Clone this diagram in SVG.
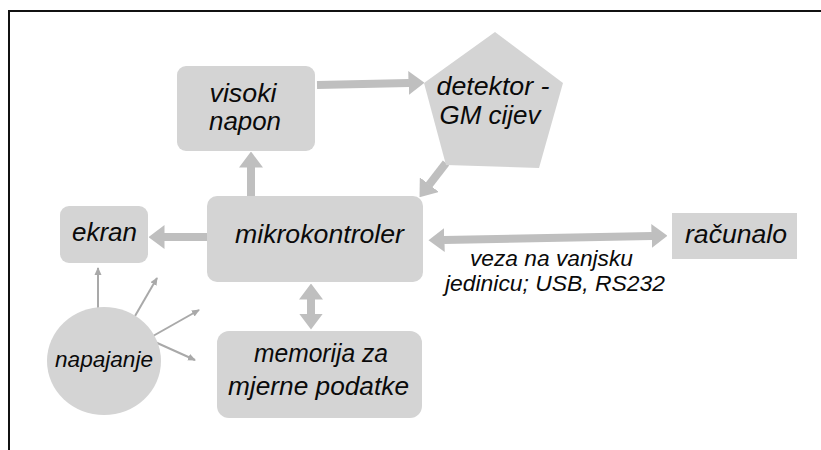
<svg xmlns="http://www.w3.org/2000/svg" width="821" height="450" viewBox="0 0 821 450">
<style>
.box{fill:#d4d4d4;stroke:none}
.lbl{font-family:"Liberation Sans",Arial,sans-serif;font-style:italic;font-size:25px;fill:#0a0a0a;text-anchor:middle}
.sm{font-size:22px}
.big{stroke:#bfbfbf;stroke-width:8;fill:none;marker-end:url(#bh)}
.dbl{stroke:#bfbfbf;stroke-width:8;fill:none;marker-end:url(#bh);marker-start:url(#bh)}
.thin{stroke:#a9a9a9;stroke-width:2;fill:none;marker-end:url(#sh)}
</style>
<defs>
<marker id="bh" viewBox="0 0 16 24" refX="0.5" refY="12" markerWidth="16" markerHeight="24" markerUnits="userSpaceOnUse" orient="auto-start-reverse">
<path d="M0,0 L16,12 L0,24 z" fill="#bfbfbf"/>
</marker>
<marker id="sh" viewBox="0 0 8 8" refX="7" refY="4" markerWidth="8" markerHeight="8" markerUnits="userSpaceOnUse" orient="auto">
<path d="M0,0.5 L8,4 L0,7.5 z" fill="#a9a9a9"/>
</marker>
</defs>
<rect width="821" height="450" fill="#ffffff"/>
<path d="M9,450 V11 H821" fill="none" stroke="#111" stroke-width="2"/>

<g id="connectors">
<line class="big" x1="317" y1="85" x2="409" y2="83"/>
<line class="big" x1="251" y1="196" x2="251" y2="167"/>
<line class="big" x1="446" y1="163" x2="429" y2="185"/>
<line class="big" x1="207" y1="237" x2="164" y2="237"/>
<line class="dbl" x1="311" y1="299" x2="311" y2="314"/>
<line class="dbl" x1="444" y1="240" x2="652" y2="236"/>
<line class="thin" x1="98" y1="308" x2="98" y2="268"/>
<line class="thin" x1="135" y1="316" x2="157" y2="278"/>
<line class="thin" x1="153" y1="336" x2="199" y2="310"/>
<line class="thin" x1="155" y1="342" x2="195" y2="360"/>
</g>

<g id="visoki-napon">
<rect class="box" x="177" y="66" width="138" height="85" rx="9"/>
<text class="lbl" x="243" y="102" textLength="67" lengthAdjust="spacingAndGlyphs">visoki</text>
<text class="lbl" x="245" y="130" textLength="72" lengthAdjust="spacingAndGlyphs">napon</text>
</g>

<g id="detektor">
<polygon class="box" points="495,32 563,83 539,168 446,165 424,83"/>
<text class="lbl" x="493" y="95" textLength="113" lengthAdjust="spacingAndGlyphs">detektor -</text>
<text class="lbl" x="490" y="124" textLength="101" lengthAdjust="spacingAndGlyphs">GM cijev</text>
</g>

<g id="mikrokontroler">
<rect class="box" x="207" y="196" width="216" height="86" rx="10"/>
<text class="lbl" x="319.5" y="243" textLength="169" lengthAdjust="spacingAndGlyphs">mikrokontroler</text>
</g>

<g id="ekran">
<rect class="box" x="60" y="206" width="88" height="57" rx="9"/>
<text class="lbl" x="104.5" y="241" textLength="65" lengthAdjust="spacingAndGlyphs">ekran</text>
</g>

<g id="racunalo">
<rect class="box" x="672" y="213" width="125" height="46"/>
<text class="lbl" x="736" y="243" textLength="102" lengthAdjust="spacingAndGlyphs">računalo</text>
</g>

<g id="napajanje">
<ellipse class="box" cx="104" cy="361" rx="57" ry="54"/>
<text class="lbl sm" x="104" y="367" textLength="98" lengthAdjust="spacingAndGlyphs">napajanje</text>
</g>

<g id="memorija">
<rect class="box" x="217" y="331" width="205" height="87" rx="12"/>
<text class="lbl" x="321" y="362" textLength="134" lengthAdjust="spacingAndGlyphs">memorija za</text>
<text class="lbl" x="318.5" y="395" textLength="181" lengthAdjust="spacingAndGlyphs">mjerne podatke</text>
</g>

<g id="veza-label">
<text class="lbl sm" x="551.5" y="266" textLength="163" lengthAdjust="spacingAndGlyphs">veza na vanjsku</text>
<text class="lbl sm" x="555" y="291" textLength="220" lengthAdjust="spacingAndGlyphs">jedinicu; USB, RS232</text>
</g>
</svg>
